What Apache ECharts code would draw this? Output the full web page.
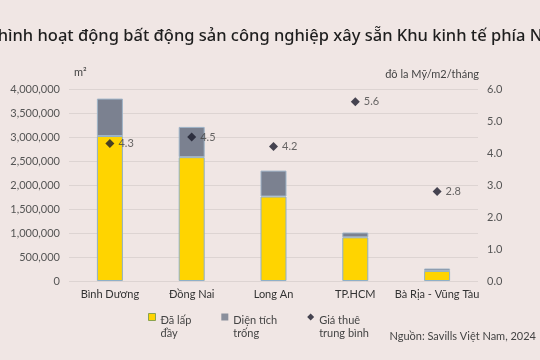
<!DOCTYPE html>
<html><head><meta charset="utf-8">
<script src="https://cdn.jsdelivr.net/npm/echarts@6/dist/echarts.min.js"></script>
<style>html,body{margin:0;padding:0;background:#f0e6e4;}#c{width:540px;height:360px;}</style>
</head><body><div id="c"></div>
<script>
const categories = ['Bình Dương', 'Đồng Nai', 'Long An', 'TP.HCM', 'Bà Rịa - Vũng Tàu'];
const filled = [3020000, 2580000, 1760000, 910000, 210000];
const vacant = [780000, 630000, 540000, 100000, 50000];
const rent = [4.3, 4.5, 4.2, 5.6, 2.8];
const leftTicks = { min: 0, max: 4000000, interval: 500000 };
const rightTicks = { min: 0, max: 6, interval: 1 };
const names = { filled: 'Đã lấp\nđầy', vacant: 'Diện tích\ntrống', rent: 'Giá thuê\ntrung bình' };

const font = 'Lato, "Noto Sans", sans-serif';
const chart = echarts.init(document.getElementById('c'), null, { renderer: 'canvas' });
chart.setOption({
  backgroundColor: '#f0e6e4',
  animation: false,
  textStyle: { fontFamily: font },
  title: {
    text: 'Tình hình hoạt động bất động sản công nghiệp xây sẵn Khu kinh tế phía Nam',
    left: -46, top: 23,
    textStyle: { fontSize: 16.5, fontWeight: 500, color: '#1e1e1e', fontFamily: '"Noto Sans", sans-serif' }
  },
  graphic: [
    { type: 'text', left: 74, top: 67, style: { text: 'm²', font: '11px ' + font, fill: '#444' } },
    { type: 'text', right: 61, top: 69, style: { text: 'đô la Mỹ/m2/tháng', font: '11px ' + font, fill: '#444' } },
    { type: 'text', right: 4, top: 331, style: { text: 'Nguồn: Savills Việt Nam, 2024', font: '11px ' + font, fill: '#444' } }
  ],
  legend: {
    left: 143, top: 308, itemWidth: 7, itemHeight: 26, itemGap: 30,
    textStyle: { fontSize: 11, color: '#444', lineHeight: 13 },
    data: [
      { name: names.filled, icon: 'path://M0,0L7,0L7,7L0,7Z M0,26L0.01,26', itemStyle: { color: '#ffd400', borderColor: '#8aa34f', borderWidth: 1 } },
      { name: names.vacant, icon: 'path://M0,0L7,0L7,7L0,7Z M0,26L0.01,26', itemStyle: { color: '#8a8f9c', borderWidth: 0 } },
      { name: names.rent, icon: 'path://M3.5,0L7,3.5L3.5,7L0,3.5Z M0,26L0.01,26', itemStyle: { color: '#1a1a2a', borderWidth: 0 } }
    ]
  },
  grid: { left: 69, right: 62, top: 89, bottom: 79 },
  xAxis: {
    type: 'category', data: categories,
    axisLine: { show: false }, axisTick: { show: false },
    axisLabel: { fontSize: 11, color: '#333', margin: 8, interval: 0 }
  },
  yAxis: [
    {
      type: 'value', min: leftTicks.min, max: leftTicks.max, interval: leftTicks.interval,
      axisLabel: { fontSize: 11, color: '#555', margin: 9, formatter: v => v.toLocaleString('en-US') },
      splitLine: { lineStyle: { color: '#ddd4d2', width: 1 } },
      axisLine: { show: false }, axisTick: { show: false }
    },
    {
      type: 'value', min: rightTicks.min, max: rightTicks.max, interval: rightTicks.interval,
      axisLabel: { fontSize: 11, color: '#555', margin: 9, formatter: v => v.toFixed(1) },
      splitLine: { show: false }, axisLine: { show: false }, axisTick: { show: false }
    }
  ],
  series: [
    {
      name: names.filled, type: 'bar', stack: 'a', data: filled, barWidth: 26,
      itemStyle: { color: '#ffd400', borderColor: '#8fb0c8', borderWidth: 1 }
    },
    {
      name: names.vacant, type: 'bar', stack: 'a', data: vacant, barWidth: 26,
      itemStyle: { color: '#7b8190', borderColor: '#9fb4c8', borderWidth: 1 }
    },
    {
      name: names.rent, type: 'scatter', yAxisIndex: 1, data: rent, symbol: 'diamond', symbolSize: 9,
      itemStyle: { color: '#1a1a2a' },
      label: { show: true, position: 'right', distance: 4, fontSize: 11, color: '#444', formatter: p => p.value.toFixed(1) }
    }
  ]
});
</script></body></html>
